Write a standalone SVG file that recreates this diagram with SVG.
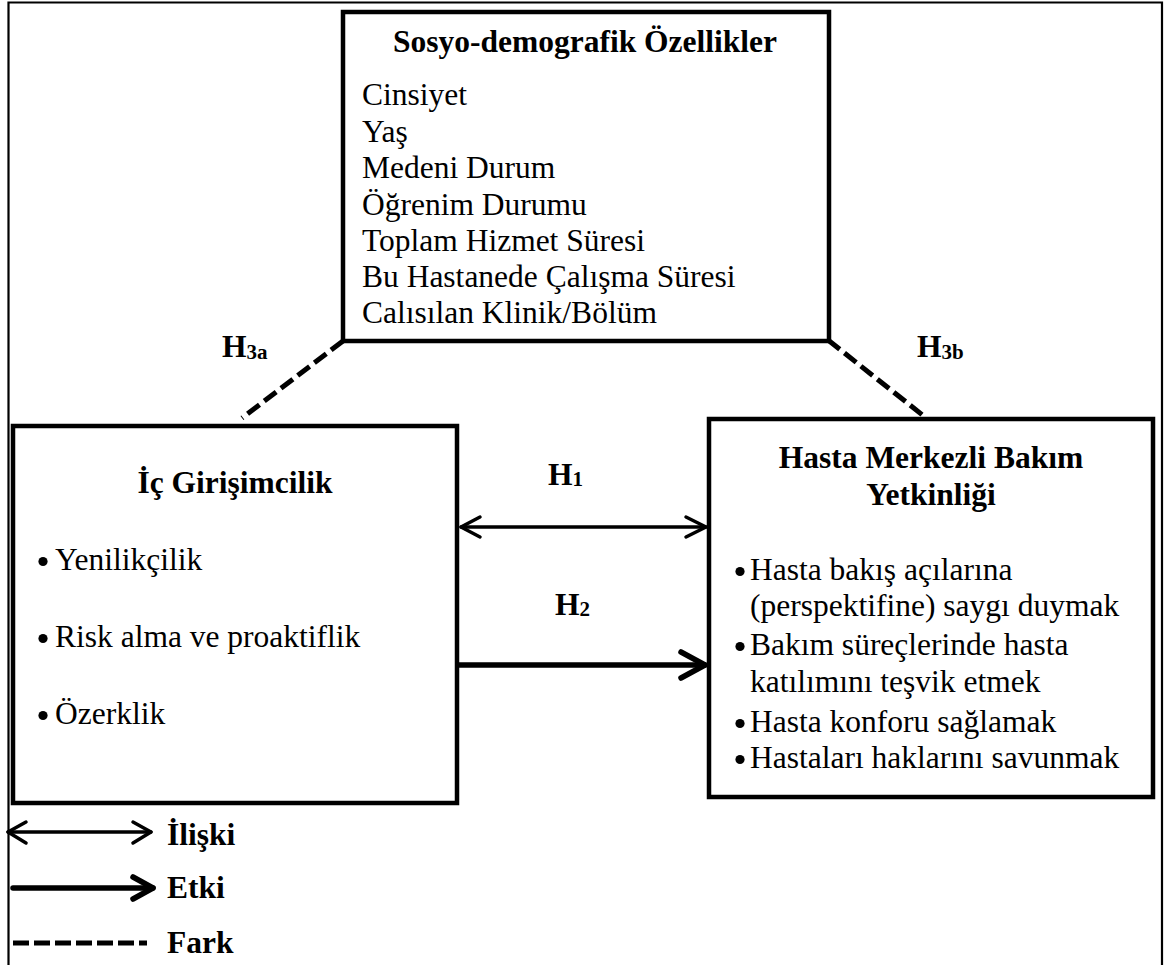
<svg xmlns="http://www.w3.org/2000/svg" width="1170" height="965" viewBox="0 0 1170 965">
<style>
.t{font-family:'Liberation Serif','DejaVu Serif',serif;font-size:31.5px;fill:#000}
.b{font-weight:bold}
.sub{font-size:21px;font-weight:bold}
.dot{fill:#000}
.box{fill:#fff;stroke:#000;stroke-width:4.5}
.frame{fill:none;stroke:#000;stroke-width:2.2}
.ln{fill:none;stroke:#000;stroke-linecap:round;stroke-linejoin:round}
.thin{stroke-width:3.5}
.thick{stroke-width:5.5}
.dash{fill:none;stroke:#000;stroke-width:5;stroke-dasharray:15 6}
</style>
<rect width="1170" height="965" fill="#fff"/>
<path class="frame" d="M8.5,966 V2.5 H1162 V966"/>

<g id="connectors">
  <line class="dash" x1="343" y1="341" x2="242" y2="418"/>
  <line class="dash" x1="828" y1="340" x2="925" y2="417"/>
  <line class="ln thin" x1="461" y1="527" x2="706" y2="527"/>
  <polyline class="ln thin" points="480,517 461,527 480,537"/>
  <polyline class="ln thin" points="686,517 706,527 686,537"/>
  <line class="ln thick" x1="459" y1="665" x2="705" y2="665"/>
  <polyline class="ln thick" points="681,652 705,665 681,678"/>
  <text class="t b" x="222" y="357">H<tspan class="sub" dy="2">3a</tspan></text>
  <text class="t b" x="917" y="357">H<tspan class="sub" dy="2">3b</tspan></text>
  <text class="t b" x="548" y="485">H<tspan class="sub" dy="1">1</tspan></text>
  <text class="t b" x="555" y="615">H<tspan class="sub" dy="1">2</tspan></text>
</g>

<g id="sosyo">
  <rect class="box" x="343" y="12" width="486" height="329"/>
  <text class="t b" x="585" y="52" text-anchor="middle">Sosyo-demografik Özellikler</text>
  <text class="t" x="362" y="105">Cinsiyet</text>
  <text class="t" x="362" y="141.5">Yaş</text>
  <text class="t" x="362" y="178">Medeni Durum</text>
  <text class="t" x="362" y="214.5">Öğrenim Durumu</text>
  <text class="t" x="362" y="251">Toplam Hizmet Süresi</text>
  <text class="t" x="362" y="287">Bu Hastanede Çalışma Süresi</text>
  <text class="t" x="362" y="323">Calısılan Klinik/Bölüm</text>
</g>

<g id="ic">
  <rect class="box" x="13" y="426" width="444" height="377"/>
  <text class="t b" x="235" y="493" text-anchor="middle">İç Girişimcilik</text>
  <circle class="dot" cx="43" cy="561.5" r="4.6"/>
  <text class="t" x="55" y="570">Yenilikçilik</text>
  <circle class="dot" cx="43" cy="638.5" r="4.6"/>
  <text class="t" x="55" y="647">Risk alma ve proaktiflik</text>
  <circle class="dot" cx="43" cy="715.5" r="4.6"/>
  <text class="t" x="55" y="724">Özerklik</text>
</g>

<g id="hasta">
  <rect class="box" x="709" y="419" width="444" height="378"/>
  <text class="t b" x="931" y="468" text-anchor="middle">Hasta Merkezli Bakım</text>
  <text class="t b" x="931" y="505" text-anchor="middle">Yetkinliği</text>
  <circle class="dot" cx="740" cy="571.5" r="4.6"/>
  <text class="t" x="750" y="580">Hasta bakış açılarına</text>
  <text class="t" x="750" y="616">(perspektifine) saygı duymak</text>
  <circle class="dot" cx="740" cy="646.5" r="4.6"/>
  <text class="t" x="750" y="655">Bakım süreçlerinde hasta</text>
  <text class="t" x="750" y="692">katılımını teşvik etmek</text>
  <circle class="dot" cx="740" cy="723.5" r="4.6"/>
  <text class="t" x="750" y="732">Hasta konforu sağlamak</text>
  <circle class="dot" cx="740" cy="759.5" r="4.6"/>
  <text class="t" x="750" y="768">Hastaları haklarını savunmak</text>
</g>

<g id="legend">
  <line class="ln thin" x1="8" y1="832" x2="151" y2="832"/>
  <polyline class="ln thin" points="26,822 8,832 26,843"/>
  <polyline class="ln thin" points="133,822 151,832 133,843"/>
  <text class="t b" x="167" y="845">İlişki</text>
  <line class="ln thick" x1="13" y1="888" x2="153" y2="888"/>
  <polyline class="ln thick" points="133,877 153,888 133,899"/>
  <text class="t b" x="167" y="898">Etki</text>
  <line x1="13" y1="943" x2="147" y2="943" stroke="#000" stroke-width="5" stroke-dasharray="16 5"/>
  <text class="t b" x="167" y="953">Fark</text>
</g>
</svg>
